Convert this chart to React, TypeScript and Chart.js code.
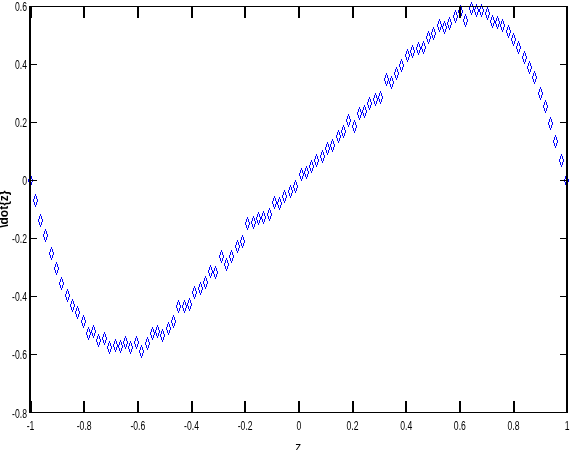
import React, { useEffect, useRef } from 'react';
import { Chart, registerables } from 'chart.js';

Chart.register(...registerables);

// z positions of the samples (evenly spaced from -1 to 1)
const zValues: number[] = [
  -1.000, -0.980, -0.960, -0.941, -0.921, -0.901, -0.881, -0.861, -0.842, -0.822,
  -0.802, -0.782, -0.762, -0.743, -0.723, -0.703, -0.683, -0.663, -0.644, -0.624,
  -0.604, -0.584, -0.564, -0.545, -0.525, -0.505, -0.485, -0.465, -0.446, -0.426,
  -0.406, -0.386, -0.366, -0.347, -0.327, -0.307, -0.287, -0.267, -0.248, -0.228,
  -0.208, -0.188, -0.168, -0.149, -0.129, -0.109, -0.089, -0.069, -0.050, -0.030,
  -0.010, 0.010, 0.030, 0.050, 0.069, 0.089, 0.109, 0.129, 0.149, 0.168,
  0.188, 0.208, 0.228, 0.248, 0.267, 0.287, 0.307, 0.327, 0.347, 0.366,
  0.386, 0.406, 0.426, 0.446, 0.465, 0.485, 0.505, 0.525, 0.545, 0.564,
  0.584, 0.604, 0.624, 0.644, 0.663, 0.683, 0.703, 0.723, 0.743, 0.762,
  0.782, 0.802, 0.822, 0.842, 0.861, 0.881, 0.901, 0.921, 0.941, 0.960,
  0.980, 1.000,
];

// \dot{z} values
const zDotValues: number[] = [
  0.000, -0.069, -0.140, -0.190, -0.254, -0.305, -0.355, -0.396, -0.433, -0.456,
  -0.486, -0.527, -0.522, -0.552, -0.547, -0.577, -0.570, -0.573, -0.561, -0.577,
  -0.561, -0.589, -0.564, -0.527, -0.522, -0.534, -0.511, -0.488, -0.437, -0.437,
  -0.428, -0.387, -0.373, -0.354, -0.316, -0.318, -0.263, -0.291, -0.263, -0.229,
  -0.213, -0.151, -0.147, -0.131, -0.128, -0.117, -0.078, -0.080, -0.055, -0.039,
  -0.023, 0.021, 0.027, 0.048, 0.069, 0.080, 0.108, 0.121, 0.151, 0.167,
  0.206, 0.186, 0.229, 0.238, 0.264, 0.278, 0.284, 0.348, 0.337, 0.367,
  0.396, 0.428, 0.442, 0.454, 0.456, 0.492, 0.504, 0.532, 0.527, 0.541,
  0.564, 0.580, 0.550, 0.591, 0.584, 0.584, 0.575, 0.547, 0.543, 0.532,
  0.511, 0.484, 0.458, 0.422, 0.389, 0.353, 0.298, 0.254, 0.195, 0.133,
  0.069, 0.000,
];

const xRange = [-1, 1];
const yRange = [-0.8, 0.6];
const tickStep = 0.2;
const xTitle = 'z';
const yTitle = '\\dot{z}';

const LABEL_FONT = "12px 'Liberation Sans', Arial, sans-serif";

// crisp, pixel-stepped tall diamond like the original marker
function makeDiamond(): HTMLCanvasElement {
  const c = document.createElement('canvas');
  c.width = 5;
  c.height = 13;
  const g = c.getContext('2d')!;
  g.fillStyle = '#0000ff';
  const half = 6;
  for (let r = 0; r <= 2 * half; r++) {
    const d = Math.abs(r - half);
    const off = Math.round(2 * (1 - d / half));
    g.fillRect(2 - off, r, 1, 1);
    g.fillRect(2 + off, r, 1, 1);
  }
  return c;
}

const fmt = (v: number) => {
  const r = Math.round(v * 10) / 10;
  return r === 0 ? '0' : String(r);
};

function tickValues(range: number[]): number[] {
  const n = Math.round((range[1] - range[0]) / tickStep);
  const out: number[] = [];
  for (let k = 0; k <= n; k++) out.push(Math.round((range[0] + k * tickStep) * 10) / 10);
  return out;
}

const framePlugin = {
  id: 'matlabFrame',
  beforeDatasetsDraw(chart: any) {
    chart.ctx.imageSmoothingEnabled = false;
  },
  afterDraw(chart: any) {
    const ctx: CanvasRenderingContext2D = chart.ctx;
    const { left, right, top, bottom } = chart.chartArea;
    const xs = chart.scales.x;
    const ys = chart.scales.y;
    const L = Math.floor(left - 0.5);
    const R = Math.round(right) - 1;
    const T = Math.round(top);
    const B = Math.round(bottom);
    const xv = tickValues(xRange);
    const yv = tickValues(yRange);

    ctx.save();
    ctx.fillStyle = '#000000';
    // inward tick marks
    for (const v of xv) {
      const col = Math.floor(xs.getPixelForValue(v));
      ctx.fillRect(col, B - 11, 2, 11);
      ctx.fillRect(col, T + 1, 2, 11);
    }
    for (const v of yv) {
      const row = Math.floor(ys.getPixelForValue(v));
      ctx.fillRect(L + 2, row, 6, 1);
      ctx.fillRect(R - 6, row, 6, 1);
    }
    // box
    ctx.fillRect(L, T, R - L + 2, 1);
    ctx.fillRect(L, B, R - L + 2, 1);
    ctx.fillRect(L, T, 2, B - T + 1);
    ctx.fillRect(R, T, 2, B - T + 1);

    // tick labels, condensed and stretched like the original
    ctx.font = LABEL_FONT;
    for (const v of xv) {
      const p = xs.getPixelForValue(v);
      ctx.save();
      ctx.translate(p + 0.5, B + 8);
      ctx.scale(0.72, 1.12);
      ctx.textAlign = 'center';
      ctx.textBaseline = 'top';
      ctx.fillText(fmt(v), 0, 0);
      ctx.restore();
    }
    for (const v of yv) {
      const p = ys.getPixelForValue(v);
      ctx.save();
      ctx.translate(L - 2, p + 1.5);
      ctx.scale(0.72, 1.12);
      ctx.textAlign = 'right';
      ctx.textBaseline = 'middle';
      ctx.fillText(fmt(v), 0, 0);
      ctx.restore();
    }

    // x-axis title (its lower part falls outside the picture, as in the original)
    ctx.font = "12px 'Liberation Sans', Arial, sans-serif";
    ctx.textAlign = 'center';
    ctx.textBaseline = 'alphabetic';
    ctx.fillText(xTitle, (left + right) / 2, 450.5);
    // y-axis title (rotated, partly cut at the left edge)
    ctx.translate(8, (top + bottom) / 2);
    ctx.rotate(-Math.PI / 2);
    ctx.font = "bold 12px 'Liberation Sans', Arial, sans-serif";
    ctx.textAlign = 'center';
    ctx.textBaseline = 'alphabetic';
    ctx.fillText(yTitle, 0, 0);
    ctx.restore();
  },
};

export default function App() {
  const ref = useRef<HTMLCanvasElement | null>(null);

  useEffect(() => {
    if (!ref.current) return;
    const diamond = makeDiamond();
    const data = zValues.map((z, i) => ({ x: z, y: zDotValues[i] }));
    const chart = new Chart(ref.current, {
      type: 'scatter',
      data: {
        datasets: [
          {
            data,
            showLine: false,
            pointStyle: diamond as any,
            pointRadius: 6,
            pointHoverRadius: 6,
            clip: false as any,
          },
        ],
      },
      options: {
        responsive: false,
        animation: false,
        events: [],
        layout: { autoPadding: false, padding: { top: 6, right: 3.3, left: 0, bottom: 0 } },
        plugins: {
          legend: { display: false },
          tooltip: { enabled: false },
          title: { display: false },
        },
        scales: {
          x: {
            type: 'linear',
            min: xRange[0],
            max: xRange[1],
            grid: { display: false, drawTicks: false },
            border: { display: false },
            ticks: { display: false, stepSize: tickStep },
            afterFit: (s: any) => {
              s.height = 37.7;
              s.paddingLeft = 0;
              s.paddingRight = 0;
            },
          },
          y: {
            type: 'linear',
            min: yRange[0],
            max: yRange[1],
            grid: { display: false, drawTicks: false },
            border: { display: false },
            ticks: { display: false, stepSize: tickStep },
            afterFit: (s: any) => {
              s.width = 30;
              s.paddingTop = 0;
              s.paddingBottom = 0;
            },
          },
        },
      },
      plugins: [framePlugin],
    });
    return () => chart.destroy();
  }, []);

  return (
    <div style={{ position: 'fixed', left: 0, top: 0, width: 570, height: 450, background: '#fff' }}>
      <canvas ref={ref} width={570} height={450} style={{ display: 'block' }} />
    </div>
  );
}
